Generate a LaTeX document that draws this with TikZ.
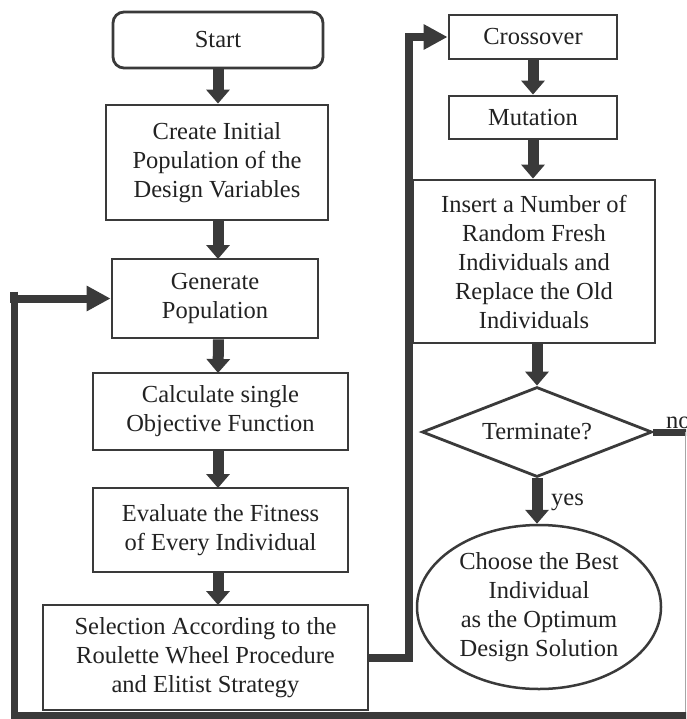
\documentclass[tikz,border=0pt]{standalone}
\usepackage{fontspec}
\setmainfont{Liberation Serif}
\usetikzlibrary{arrows.meta,shapes.geometric}

\definecolor{ink}{HTML}{3A3A3A}
\definecolor{txt}{HTML}{222222}

\tikzset{
  flowbox/.style={draw=ink, line width=2.8pt, fill=white, inner sep=0pt,
    align=center, text=txt, font=\fontsize{24.5}{29}\selectfont},
  startbox/.style={flowbox, rounded corners=11pt},
  decision/.style={flowbox, shape=diamond, aspect=2.5},
  terminal/.style={flowbox, shape=ellipse, line width=2.5pt},
  downarrow/.style={draw=ink, line width=11pt,
    -{Triangle[width=23pt,length=14pt]}},
  sidearrow/.style={draw=ink, line width=8pt,
    -{Triangle[width=24pt,length=24pt]}},
  loopline/.style={draw=ink, line width=7pt},
  edgelabel/.style={text=txt, font=\fontsize{24.5}{29}\selectfont, inner sep=0pt}
}

\begin{document}
\begin{tikzpicture}[x=1pt,y=-1pt]
\useasboundingbox (0,0) rectangle (686,719);
\fill[white] (0,0) rectangle (686,719);
\clip (0,0) rectangle (686,719);

% left column
\node[startbox, minimum width=210pt, minimum height=56pt] (start) at (218,40) {Start};
\node[flowbox, minimum width=222pt, minimum height=115pt] (create) at (217,162.5)
  {Create Initial\\Population of the\\Design Variables};
\node[flowbox, minimum width=206pt, minimum height=79pt] (gen) at (215,298.5)
  {Generate\\Population};
\node[flowbox, minimum width=255pt, minimum height=77pt] (calc) at (220.5,411.5)
  {Calculate single\\Objective Function};
\node[flowbox, minimum width=255pt, minimum height=84pt] (eval) at (220.5,530)
  {Evaluate the Fitness\\of Every Individual};
\node[flowbox, minimum width=325pt, minimum height=105pt] (select) at (205.5,657.5)
  {Selection According to the\\Roulette Wheel Procedure\\and Elitist Strategy};

% right column
\node[flowbox, minimum width=168pt, minimum height=44pt] (cross) at (533,37) {Crossover};
\node[flowbox, minimum width=168pt, minimum height=43pt] (mut) at (533,117.5) {Mutation};
\node[flowbox, minimum width=242pt, minimum height=163pt] (insert) at (534,261.5)
  {Insert a Number of\\Random Fresh\\Individuals and\\Replace the Old\\Individuals};
\node[decision, minimum width=230pt, minimum height=90pt] (term) at (537,432) {Terminate?};
\node[terminal, minimum width=244pt, minimum height=164pt] (choose) at (539,607)
  {Choose the Best\\Individual\\as the Optimum\\Design Solution};

% main flow
\draw[downarrow] (start.south) -- (start.south |- create.north);
\draw[downarrow] (218,220) -- (218,259);
\draw[downarrow] (gen.south -| calc.north) ++(-2,0) -- (218,373);
\draw[downarrow] (218,450) -- (218,488);
\draw[downarrow] (218,572) -- (218,605);

\draw[downarrow] (cross.south) -- (mut.north);
\draw[downarrow] (mut.south) -- (mut.south |- insert.north);
\draw[downarrow] (insert.south -| term.north) -- (term.north);
\draw[downarrow] (term.south) -- (term.south |- choose.north);

% selection feeds crossover
\draw[sidearrow] (select.east) -- ++(40,0) |- (cross.west);

% "no" branch loops back to population generation
\coordinate (noend) at (700,432);
\coordinate (edge) at (685.5,432);
\coordinate (corner) at (700,715);
\draw[draw=ink, line width=7pt] (term.east) -- (noend);
\draw[draw=gray!70, line width=1pt] (edge) -- (edge |- corner);
\draw[loopline] (corner) -- (14,715) -- (14,295);
\draw[sidearrow] (14,291.5) |- (gen.west);

% labels
\node[edgelabel, anchor=base west] (yeslbl) at (551,505) {yes};
\node[edgelabel, anchor=base west] (nolbl) at (666,428) {no};
\end{tikzpicture}
\end{document}
